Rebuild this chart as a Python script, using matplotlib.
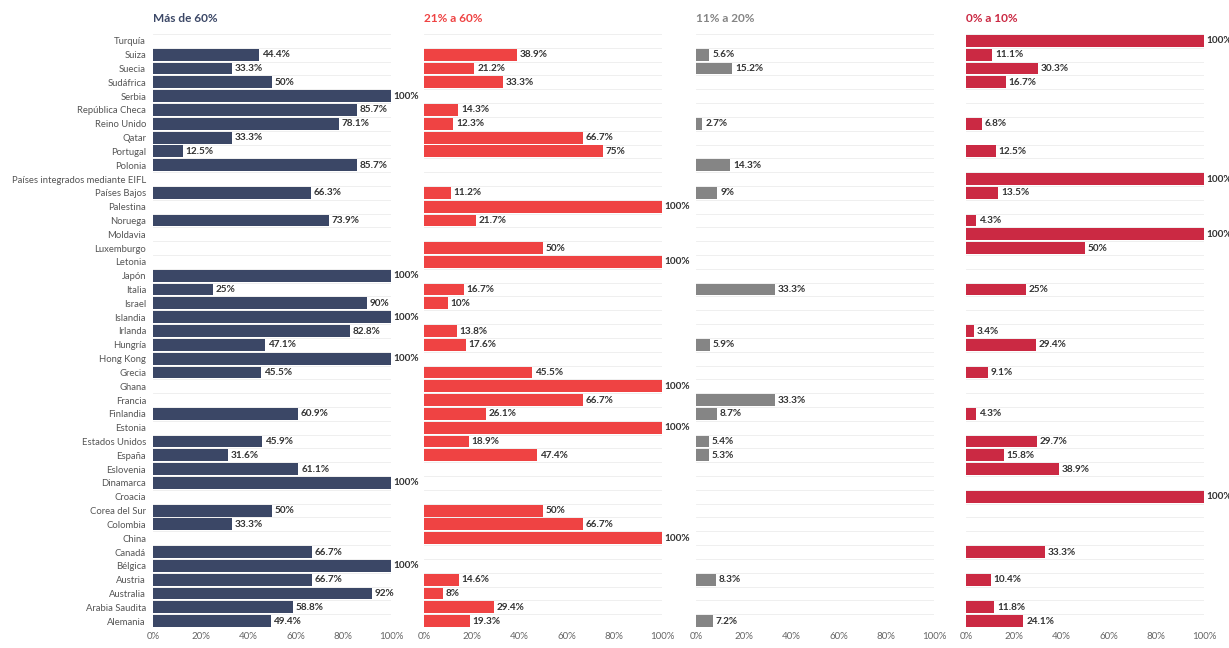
import matplotlib.pyplot as plt
import numpy as np

plt.rcParams['font.family'] = ['Lato', 'DejaVu Sans']

paises = ['Turquía', 'Suiza', 'Suecia', 'Sudáfrica', 'Serbia', 'República Checa',
          'Reino Unido', 'Qatar', 'Portugal', 'Polonia', 'Países integrados mediante EIFL',
          'Países Bajos', 'Palestina', 'Noruega', 'Moldavia', 'Luxemburgo', 'Letonia',
          'Japón', 'Italia', 'Israel', 'Islandia', 'Irlanda', 'Hungría', 'Hong Kong',
          'Grecia', 'Ghana', 'Francia', 'Finlandia', 'Estonia', 'Estados Unidos', 'España',
          'Eslovenia', 'Dinamarca', 'Croacia', 'Corea del Sur', 'Colombia', 'China',
          'Canadá', 'Bélgica', 'Austria', 'Australia', 'Arabia Saudita', 'Alemania']

n = np.nan
mas_60 = [n, 44.4, 33.3, 50, 100, 85.7, 78.1, 33.3, 12.5, 85.7, n, 66.3, n, 73.9, n, n, n,
          100, 25, 90, 100, 82.8, 47.1, 100, 45.5, n, n, 60.9, n, 45.9, 31.6, 61.1, 100, n,
          50, 33.3, n, 66.7, 100, 66.7, 92, 58.8, 49.4]
de_21_60 = [n, 38.9, 21.2, 33.3, n, 14.3, 12.3, 66.7, 75, n, n, 11.2, 100, 21.7, n, 50, 100,
            n, 16.7, 10, n, 13.8, 17.6, n, 45.5, 100, 66.7, 26.1, 100, 18.9, 47.4, n, n, n,
            50, 66.7, 100, n, n, 14.6, 8, 29.4, 19.3]
de_11_20 = [n, 5.6, 15.2, n, n, n, 2.7, n, n, 14.3, n, 9, n, n, n, n, n,
            n, 33.3, n, n, n, 5.9, n, n, n, 33.3, 8.7, n, 5.4, 5.3, n, n, n,
            n, n, n, n, n, 8.3, n, n, 7.2]
de_0_10 = [100, 11.1, 30.3, 16.7, n, n, 6.8, n, 12.5, n, 100, 13.5, n, 4.3, 100, 50, n,
           n, 25, n, n, 3.4, 29.4, n, 9.1, n, n, 4.3, n, 29.7, 15.8, 38.9, n, 100,
           n, n, n, 33.3, n, 10.4, n, 11.8, 24.1]

titulos = ['Más de 60%', '21% a 60%', '11% a 20%', '0% a 10%']
series = [mas_60, de_21_60, de_11_20, de_0_10]
colores = ['#3b4766', '#ef4343', '#858585', '#cb2943']
ticks = [0, 20, 40, 60, 80, 100]

fig = plt.figure(figsize=(12.29, 6.48), dpi=100)
W, H = 1229, 648
lefts = [153, 424, 696, 966]
ancho = 238
top, bottom = 34, 628

y = np.arange(len(paises))
for i, (vals, col, tit) in enumerate(zip(series, colores, titulos)):
    ax = fig.add_axes([lefts[i] / W, 1 - bottom / H, ancho / W, (bottom - top) / H])
    for b in np.arange(len(paises) + 1) - 0.5:
        ax.axhline(b, color='#ececec', lw=0.6, zorder=0)
    vals = np.array(vals, dtype=float)
    ok = ~np.isnan(vals)
    ax.barh(y[ok], vals[ok], height=0.86, color=col, zorder=2)
    for yy, v in zip(y[ok], vals[ok]):
        ax.text(v + 1.2, yy, f'{v:g}%', va='center', ha='left', fontsize=7.2,
                fontweight='bold', color='#333333', clip_on=False)
    ax.set_xlim(0, 100)
    ax.set_ylim(len(paises) - 0.5, -0.5)
    ax.set_xticks(ticks)
    ax.set_xticklabels([f'{t}%' for t in ticks], fontsize=7, color='#666666')
    ax.tick_params(axis='x', length=0, pad=3)
    if i == 0:
        ax.set_yticks(y)
        ax.set_yticklabels(paises, fontsize=6.8, color='#555555')
        ax.tick_params(axis='y', length=0, pad=5)
    else:
        ax.set_yticks([])
    for s in ax.spines.values():
        s.set_visible(False)
    fig.text(lefts[i] / W, 1 - 19 / H, tit, color=col, fontsize=8.5,
             fontweight='bold', va='center', ha='left')

plt.savefig('out.png', dpi=100)
